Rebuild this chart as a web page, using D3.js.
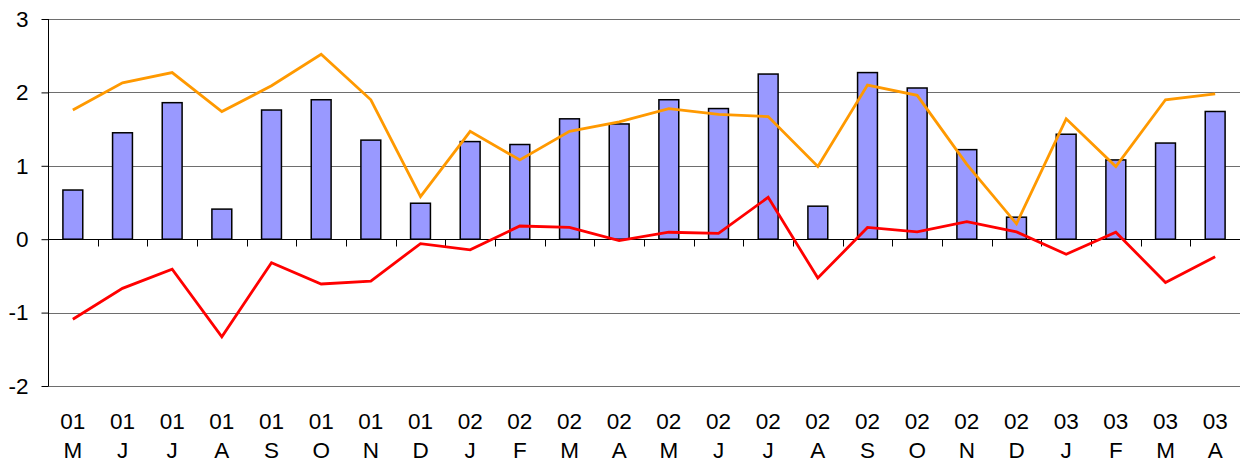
<!DOCTYPE html>
<html>
<head>
<meta charset="utf-8">
<script src="https://cdn.jsdelivr.net/npm/d3@7"></script>
<style>
  body { margin: 0; background: #fff; }
  text { font-family: "Liberation Sans", Arial, sans-serif; fill: #000; }
</style>
</head>
<body>
<div id="chart"></div>
<script>
// categories: year / month initial
const years = ["01","01","01","01","01","01","01","01","02","02","02","02","02","02","02","02","02","02","02","02","03","03","03","03"];
const months = ["M","J","J","A","S","O","N","D","J","F","M","A","M","J","J","A","S","O","N","D","J","F","M","A"];

const bars = [0.67,1.45,1.86,0.41,1.76,1.90,1.35,0.49,1.33,1.29,1.64,1.57,1.90,1.78,2.25,0.45,2.27,2.06,1.22,0.30,1.43,1.08,1.31,1.74];
const orange = [1.76,2.13,2.27,1.74,2.09,2.52,1.90,0.58,1.47,1.08,1.47,1.60,1.78,1.70,1.67,0.99,2.10,1.96,1.02,0.21,1.64,0.99,1.90,1.98];
const red = [-1.09,-0.67,-0.41,-1.33,-0.32,-0.61,-0.57,-0.06,-0.145,0.18,0.16,-0.02,0.095,0.08,0.57,-0.53,0.16,0.10,0.24,0.10,-0.205,0.095,-0.59,-0.24];

const yTicks = [-2,-1,0,1,2,3];

const width = 1241, height = 462;
const margin = {top: 19, right: 1, bottom: 76, left: 48};
const fontSize = 22.5;

const svg = d3.select("#chart").append("svg")
    .attr("width", width)
    .attr("height", height);

const idx = d3.range(bars.length);

const x = d3.scaleBand()
    .domain(idx)
    .range([margin.left, width - margin.right]);

const y = d3.scaleLinear()
    .domain([-2, 3])
    .range([height - margin.bottom, margin.top]);

// gridlines
svg.append("g")
    .selectAll("line")
    .data(yTicks)
    .enter().append("line")
    .attr("x1", margin.left)
    .attr("x2", width - margin.right)
    .attr("y1", d => Math.round(y(d)) + 0.5)
    .attr("y2", d => Math.round(y(d)) + 0.5)
    .attr("stroke", "#6e6e6e")
    .attr("stroke-width", 1);

// bars
const bw = x.bandwidth() * 0.4;
svg.append("g")
    .selectAll("rect")
    .data(bars)
    .enter().append("rect")
    .attr("x", (d, i) => x(i) + (x.bandwidth() - bw) / 2)
    .attr("y", d => y(Math.max(0, d)))
    .attr("width", bw)
    .attr("height", d => Math.abs(y(d) - y(0)))
    .attr("fill", "#9999ff")
    .attr("stroke", "#000")
    .attr("stroke-width", 1.5);

// y axis
const yAxis = d3.axisLeft(y)
    .tickValues(yTicks)
    .tickSize(7)
    .tickFormat(d => String(d));

const gy = svg.append("g")
    .attr("transform", `translate(${margin.left + 0.5},0)`)
    .call(yAxis);
gy.select(".domain").attr("stroke", "#000").attr("d", `M0,${y(3)}V${y(-2)}`);
gy.selectAll(".tick line").attr("stroke", "#000");
gy.selectAll(".tick text")
    .attr("font-size", fontSize)
    .attr("x", -20)
    .attr("font-family", "Liberation Sans, Arial, sans-serif");

// x axis at zero
const gx = svg.append("g")
    .attr("transform", `translate(0,${Math.round(y(0)) + 0.5})`);
gx.append("line")
    .attr("x1", margin.left)
    .attr("x2", width - margin.right)
    .attr("stroke", "#000");
gx.selectAll(".xtick")
    .data(d3.range(1, bars.length))
    .enter().append("line")
    .attr("class", "xtick")
    .attr("x1", d => Math.round(x(d)) + 0.5)
    .attr("x2", d => Math.round(x(d)) + 0.5)
    .attr("y1", 0)
    .attr("y2", 7)
    .attr("stroke", "#000");

// category labels
const labels = svg.append("g")
    .selectAll("text")
    .data(idx)
    .enter().append("text")
    .attr("text-anchor", "middle")
    .attr("font-size", fontSize)
    .attr("x", i => x(i) + x.bandwidth() / 2);
labels.append("tspan")
    .attr("x", i => x(i) + x.bandwidth() / 2)
    .attr("y", 428.5)
    .text(i => years[i]);
labels.append("tspan")
    .attr("x", i => x(i) + x.bandwidth() / 2)
    .attr("y", 458)
    .text(i => months[i]);

// lines
const line = d3.line()
    .x((d, i) => x(i) + x.bandwidth() / 2)
    .y(d => y(d));

svg.append("path")
    .datum(orange)
    .attr("fill", "none")
    .attr("stroke", "#ff9900")
    .attr("stroke-width", 2.8)
    .attr("d", line);

svg.append("path")
    .datum(red)
    .attr("fill", "none")
    .attr("stroke", "#ff0000")
    .attr("stroke-width", 2.8)
    .attr("d", line);
</script>
</body>
</html>
